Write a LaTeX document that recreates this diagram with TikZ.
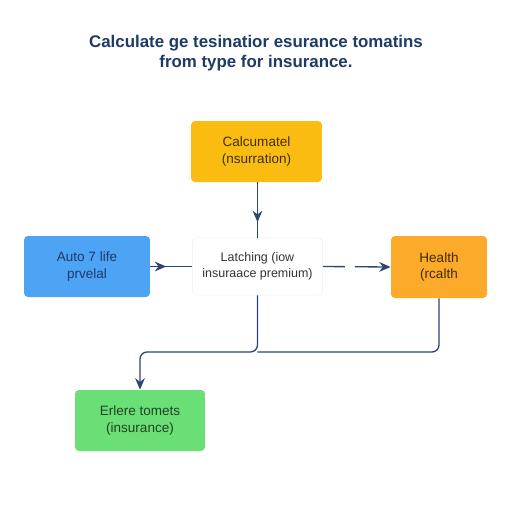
\documentclass[tikz,border=0pt]{standalone}
\usepackage{fontspec}
\setmainfont{Liberation Sans}
\usepackage{xcolor}
\usetikzlibrary{positioning,calc,arrows.meta,decorations.markings}

\definecolor{headnavy}{HTML}{1E3A66}
\definecolor{linenavy}{HTML}{2E4472}
\definecolor{calcyellow}{HTML}{FBBC12}
\definecolor{autoblue}{HTML}{4DA3F4}
\definecolor{healthorange}{HTML}{FBAA2A}
\definecolor{resultgreen}{HTML}{6ADF76}

\tikzset{
	box/.style={rectangle, rounded corners=2.3pt, minimum height=1.22cm, align=center,
		font=\fontsize{7.7}{9.6}\selectfont},
	link/.style={draw=linenavy, line width=0.75pt},
	midarrow/.style={postaction={decorate}, decoration={markings,
		mark=at position #1 with {\arrow[linenavy]{Stealth[length=6.5pt,width=5.5pt]}}}},
	endarrow/.style={-{Stealth[length=6.5pt,width=5.5pt]}}
}

\begin{document}
\begin{tikzpicture}[x=0.02cm, y=-0.02cm]
	% white page, fixes the margins
	\fill[white] (0,0) rectangle (512,512);

	\node[align=center, text=headnavy, font=\fontsize{9.6}{11.6}\selectfont\bfseries] (heading) at (256,53)
		{Calculate ge tesinatior esurance tomatins\\from type for insurance.};

	% boxes
	\node[box, fill=calcyellow, text=black!75!calcyellow, minimum width=2.62cm] (calc) at (256.5,151.5)
		{Calcumatel\\(nsurration)};
	\node[box, fill=autoblue, text=headnavy, minimum width=2.52cm] (auto) at (87,266.5)
		{Auto 7 life\\prvelal};
	\node[box, fill=white, draw=black!5, text=black!80, minimum width=2.6cm, minimum height=1.14cm,
		font=\fontsize{7.1}{9.4}\selectfont] (latch) at (257.5,266.5)
		{Latching (iow\\insuraace premium)};
	\node[box, fill=healthorange, text=black!75!healthorange, minimum width=1.92cm, minimum height=1.24cm] (health) at (439,267)
		{Health\\(rcalth};
	\node[box, fill=resultgreen, text=black!70!resultgreen, minimum width=2.6cm] (result) at (140,420.5)
		{Erlere tomets\\(insurance)};

	% arrows into the middle box
	\draw[link, midarrow=0.72] (calc.south -| latch.north) -- (latch.north);
	\draw[link, midarrow=0.38] (auto.east) -- (latch.west);
	\draw[link, endarrow, dash pattern=on 12.5pt off 5.7pt on 40pt] (latch.east) -- (health.west);

	% both branches meet here and go down to the green box
	\coordinate (split) at (latch.south |- 0,352);
	\draw[link, endarrow, rounded corners=4pt] (latch.south) -- (split) -| (result.north);
	\draw[link, rounded corners=4pt] (health.south) |- (split);
\end{tikzpicture}
\end{document}
